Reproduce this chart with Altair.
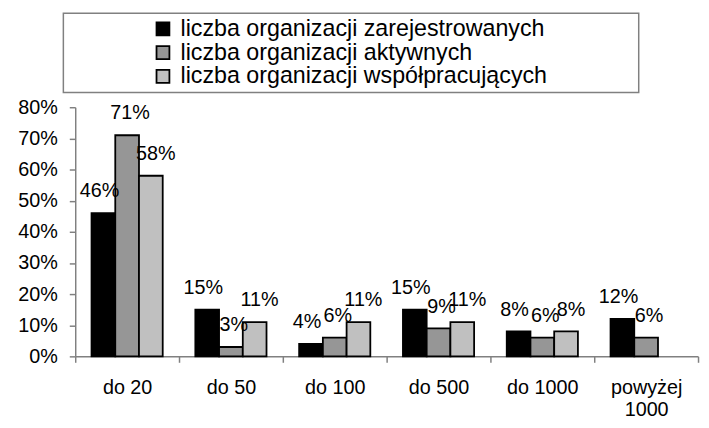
import altair as alt
import pandas as pd

categories = ["do 20", "do 50", "do 100", "do 500", "do 1000", "powyżej 1000"]
series = [
    "liczba organizacji zarejestrowanych",
    "liczba organizacji aktywnych",
    "liczba organizacji współpracujących",
]
zarejestrowane = [46, 15, 4, 15, 8, 12]
aktywne = [71, 3, 6, 9, 6, 6]
wspolpracujace = [58, 11, 11, 11, 8, None]
colors = ["#000000", "#969696", "#c0c0c0"]
label_dx = [-4, 3, 5]

rows = []
for s, vals in zip(series, [zarejestrowane, aktywne, wspolpracujace]):
    for c, v in zip(categories, vals):
        if v is None:
            continue
        rows.append({"kategoria": c, "seria": s, "wartosc": v, "etykieta": f"{v}%"})
df = pd.DataFrame(rows)

FONT = "Liberation Sans"

x_axis = alt.Axis(
    title=None,
    labelAngle=0,
    tickBand="extent",
    tickSize=6,
    labelPadding=16,
    labelFontSize=20,
    labelColor="black",
    labelFont=FONT,
    labelLineHeight=22,
    domainColor="#808080",
    tickColor="#808080",
    domainWidth=1.5,
    tickWidth=1.5,
    labelExpr="datum.value == 'powyżej 1000' ? ['powyżej', '1000'] : datum.value",
)
y_axis = alt.Axis(
    title=None,
    values=[0, 10, 20, 30, 40, 50, 60, 70, 80],
    labelExpr="datum.value + '%'",
    labelOverlap=False,
    grid=False,
    tickSize=6,
    labelPadding=12,
    labelFontSize=20,
    labelColor="black",
    labelFont=FONT,
    domainColor="#808080",
    tickColor="#808080",
    domainWidth=1.5,
    tickWidth=1.5,
)


def x_enc():
    return alt.X(
        "kategoria:N",
        sort=categories,
        scale=alt.Scale(paddingInner=0, paddingOuter=0),
        axis=x_axis,
    )


def xoff_enc():
    return alt.XOffset(
        "seria:N", sort=series, scale=alt.Scale(paddingInner=0, paddingOuter=0.6875)
    )


def y_enc():
    return alt.Y("wartosc:Q", scale=alt.Scale(domain=[0, 80]), axis=y_axis)


bars = alt.Chart(df).mark_bar(stroke="black", strokeWidth=1.8).encode(
    x=x_enc(),
    xOffset=xoff_enc(),
    y=y_enc(),
    color=alt.Color(
        "seria:N",
        sort=series,
        scale=alt.Scale(domain=series, range=colors),
        legend=alt.Legend(
            title=None,
            orient="none",
            legendX=77,
            legendY=-91,
            padding=0,
            labelFontSize=23.5,
            labelFont=FONT,
            labelColor="black",
            symbolType="square",
            symbolSize=170,
            symbolStrokeColor="black",
            symbolStrokeWidth=1.8,
            labelOffset=6,
            rowPadding=-3,
            labelLimit=600,
        ),
    ),
)

texts = []
for s, dx in zip(series, label_dx):
    t = (
        alt.Chart(df)
        .transform_filter(alt.datum.seria == s)
        .mark_text(
            baseline="alphabetic", dy=-16, dx=dx, fontSize=20, font=FONT, color="black"
        )
        .encode(
            x=x_enc(),
            xOffset=xoff_enc(),
            y=y_enc(),
            text="etykieta:N",
        )
    )
    texts.append(t)

frame = (
    alt.Chart(pd.DataFrame({"ramka": [0]}))
    .mark_rect(fillOpacity=0, stroke="#808080", strokeWidth=1.5)
    .encode(
        x=alt.value(-12),
        x2=alt.value(570),
        y=alt.value(-95),
        y2=alt.value(-15),
    )
)

chart = (
    alt.layer(frame, bars, *texts)
    .properties(
        width=630,
        height=252,
        autosize=alt.AutoSizeParams(type="none"),
        padding={"left": 68, "top": 98, "right": 3, "bottom": 62},
    )
    .configure_view(stroke=None)
)

chart.save("out.html", embed_options={"renderer": "svg", "actions": False})
